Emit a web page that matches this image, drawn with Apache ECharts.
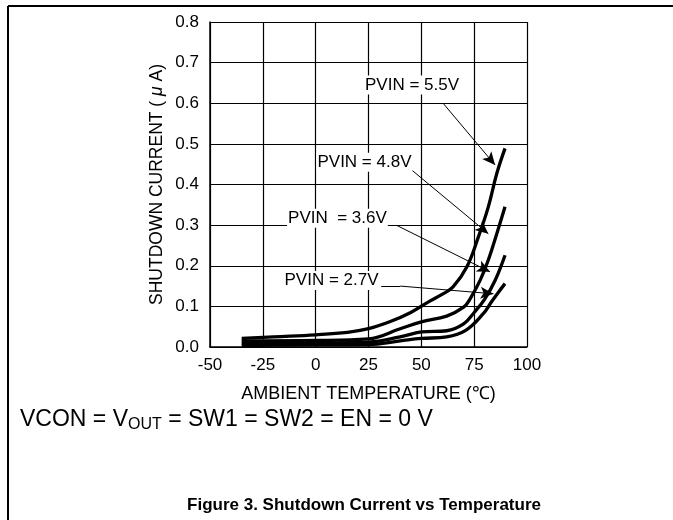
<!DOCTYPE html>
<html>
<head>
<meta charset="utf-8">
<script src="https://cdn.jsdelivr.net/npm/echarts@6/dist/echarts.min.js"></script>
<style>
    html, body { margin: 0; padding: 0; background: #fff; }
    #main { width: 673px; height: 520px; }
</style>
</head>
<body>
<div id="main"></div>
<script>
    // curves (temperature in C, current in uA)
    var temp55 = [-35, -20, 0, 15, 25, 35, 45, 54, 60, 65, 71.5, 77, 81.7, 85.7, 89.6]
    var curr55 = [0.021, 0.025, 0.030, 0.036, 0.045, 0.062, 0.085, 0.113, 0.130, 0.148, 0.197, 0.271, 0.345, 0.427, 0.489]

    var temp48 = [-35, 0, 25, 40, 50, 62, 70, 73, 77.8, 81.7, 85.7, 89.6]
    var curr48 = [0.015, 0.016, 0.020, 0.045, 0.062, 0.076, 0.098, 0.118, 0.164, 0.214, 0.279, 0.345]

    var temp36 = [-35, 0, 25, 40, 50, 62, 70, 75, 80, 85, 89.6]
    var curr36 = [0.009, 0.010, 0.012, 0.025, 0.037, 0.040, 0.057, 0.085, 0.118, 0.165, 0.226]

    var temp27 = [-35, 0, 25, 40, 50, 62, 71, 79.3, 83.3, 86.5, 89.6]
    var curr27 = [0.004, 0.005, 0.006, 0.015, 0.021, 0.025, 0.041, 0.082, 0.112, 0.135, 0.156]

    var xTicks = [-50, -25, 0, 25, 50, 75, 100]
    var yTicks = [0.0, 0.1, 0.2, 0.3, 0.4, 0.5, 0.6, 0.7, 0.8]

    // annotation labels: text and centre (temp, current)
    var labelNames = ['PVIN = 5.5V', 'PVIN = 4.8V', 'PVIN  = 3.6V', 'PVIN = 2.7V']
    var labelX = [45.6, 23.1, 10.3, 7.5]
    var labelY = [0.645, 0.455, 0.317, 0.164]

    // arrows: tail -> head
    var arrowFromX = [60.3, 45.6, 38.5, 40]
    var arrowFromY = [0.600, 0.435, 0.299, 0.150]
    var arrowToX = [84.9, 81.7, 82.5, 84.1]
    var arrowToY = [0.448, 0.279, 0.185, 0.131]

    // leader underlines next to the 3.6V / 2.7V labels
    var leaderFromX = [-25.4, 34.2, 31]
    var leaderToX = [-14, 38.5, 40]
    var leaderY = [0.299, 0.299, 0.150]

    var font = 'Liberation Sans, Arial, Helvetica, sans-serif'

    function pairs(xs, ys) {
        return xs.map(function (x, i) { return [x, ys[i]] })
    }

    function curve(name, xs, ys) {
        return {
            name: name,
            type: 'line',
            data: pairs(xs, ys),
            smooth: 0.4,
            showSymbol: false,
            lineStyle: { color: '#000', width: 3.3, cap: 'butt' },
            z: 3
        }
    }

    var arrowData = []
    for (var i = 0; i < arrowFromX.length; i++) {
        arrowData.push([
            { coord: [arrowFromX[i], arrowFromY[i]], symbol: 'none' },
            { coord: [arrowToX[i], arrowToY[i]], symbol: 'arrow' }
        ])
    }
    for (var j = 0; j < leaderFromX.length; j++) {
        arrowData.push([
            { coord: [leaderFromX[j], leaderY[j]], symbol: 'none' },
            { coord: [leaderToX[j], leaderY[j]], symbol: 'none' }
        ])
    }

    var labelData = labelNames.map(function (n, i) {
        return { name: n, value: [labelX[i], labelY[i]] }
    })

    var myChart = echarts.init(document.getElementById('main'), null, { renderer: 'canvas' })

    myChart.setOption({
        animation: false,
        backgroundColor: '#fff',
        textStyle: { fontFamily: font },
        grid: { left: 210, right: 146, top: 22, bottom: 173 },
        xAxis: {
            type: 'value',
            min: xTicks[0],
            max: xTicks[xTicks.length - 1],
            interval: 25,
            name: 'AMBIENT TEMPERATURE (℃)',
            nameLocation: 'middle',
            nameGap: 38,
            nameTextStyle: { color: '#000', fontSize: 18, fontFamily: font },
            axisLine: { onZero: false, lineStyle: { color: '#000', width: 1.5 } },
            axisTick: { show: false },
            axisLabel: { color: '#000', fontSize: 17, margin: 10, fontFamily: font },
            splitLine: { lineStyle: { color: '#000', width: 1.2 } }
        },
        yAxis: {
            type: 'value',
            min: yTicks[0],
            max: yTicks[yTicks.length - 1],
            interval: 0.1,
            name: 'SHUTDOWN CURRENT ( {i|μ} A)',
            nameLocation: 'middle',
            nameGap: 44,
            nameRotate: 90,
            nameTextStyle: {
                color: '#000', fontSize: 17.5, fontFamily: font,
                rich: { i: { fontStyle: 'italic', fontSize: 17.5, color: '#000', fontFamily: font } }
            },
            axisLine: { show: true, onZero: false, lineStyle: { color: '#000', width: 1.5 } },
            axisTick: { show: false },
            axisLabel: {
                color: '#000', fontSize: 17, margin: 11, fontFamily: font,
                formatter: function (v) { return v.toFixed(1) }
            },
            splitLine: { lineStyle: { color: '#000', width: 1.2 } }
        },
        series: [
            curve('5.5V', temp55, curr55),
            curve('4.8V', temp48, curr48),
            curve('3.6V', temp36, curr36),
            curve('2.7V', temp27, curr27),
            {
                name: 'arrows',
                type: 'line',
                data: [],
                markLine: {
                    silent: true,
                    animation: false,
                    symbolSize: [9, 13],
                    label: { show: false },
                    lineStyle: { color: '#000', width: 1, type: 'solid', opacity: 1 },
                    emphasis: { disabled: true },
                    data: arrowData
                },
                z: 4
            },
            {
                name: 'labels',
                type: 'scatter',
                data: labelData,
                symbolSize: 0,
                silent: true,
                itemStyle: { opacity: 1, color: '#000' },
                label: {
                    show: true,
                    position: 'inside',
                    formatter: function (p) { return p.name },
                    color: '#000',
                    opacity: 1,
                    fontSize: 17,
                    fontFamily: font,
                    backgroundColor: '#fff',
                    padding: [1, 1, 1, 1]
                },
                z: 5
            }
        ],
        graphic: [
            {
                type: 'line',
                shape: { x1: 8, y1: 6, x2: 673, y2: 6 },
                style: { stroke: '#000', lineWidth: 2 }
            },
            {
                type: 'line',
                shape: { x1: 8, y1: 6, x2: 8, y2: 520 },
                style: { stroke: '#000', lineWidth: 2 }
            },
            {
                type: 'text',
                left: 20,
                top: 406,
                style: {
                    text: '{a|VCON = V}{s|OUT}{a| = SW1 = SW2 = EN = 0 V}',
                    rich: {
                        a: { fontSize: 23, fontFamily: font, fill: '#000', lineHeight: 30 },
                        s: { fontSize: 16, fontFamily: font, fill: '#000', lineHeight: 30, padding: [11, 0, 0, 0] }
                    }
                }
            },
            {
                type: 'text',
                x: 364,
                y: 505,
                style: {
                    text: 'Figure 3. Shutdown Current vs Temperature',
                    fontSize: 17,
                    fontWeight: 'bold',
                    fontFamily: font,
                    fill: '#000',
                    align: 'center',
                    verticalAlign: 'middle'
                }
            }
        ]
    })
</script>
</body>
</html>
